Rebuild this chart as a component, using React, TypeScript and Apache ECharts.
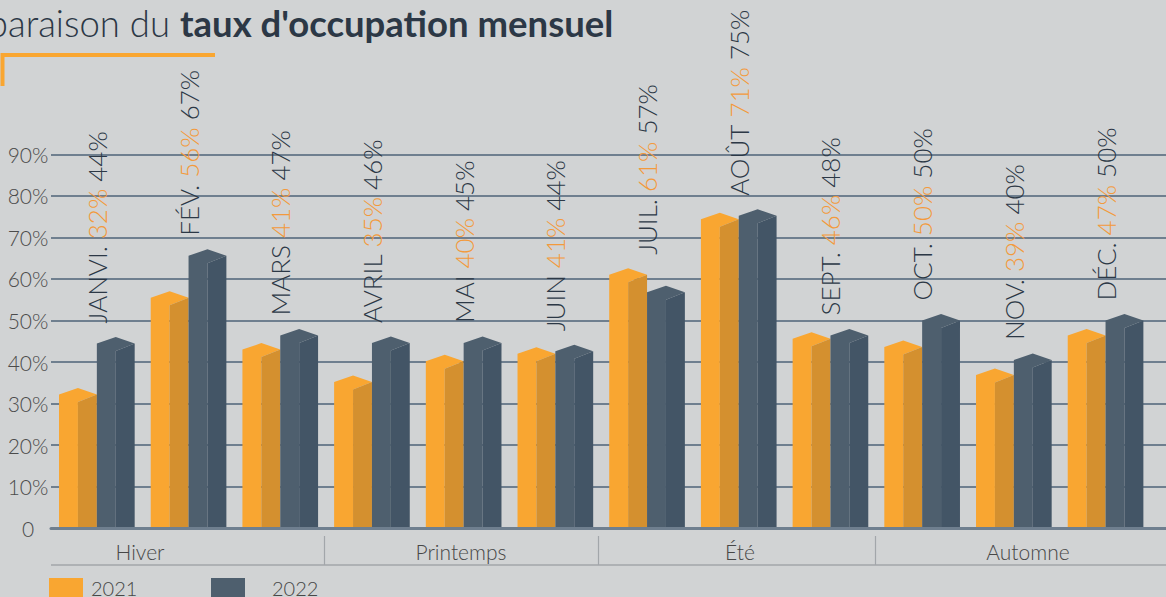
import React, { useEffect, useRef } from 'react';
import * as echarts from 'echarts';

// ---- data ----
const months = ['JANVI.', 'FÉV.', 'MARS', 'AVRIL', 'MAI', 'JUIN', 'JUIL.', 'AOÛT', 'SEPT.', 'OCT.', 'NOV.', 'DÉC.'];
const bars2021 = [32.2, 55.5, 43, 35.2, 40.2, 42, 61, 74.4, 45.6, 43.6, 36.9, 46.4];
const bars2022 = [44.5, 65.6, 46.4, 44.6, 44.6, 42.6, 56.8, 75.2, 46.4, 50, 40.5, 50];
const labels2021 = ['32%', '56%', '41%', '35%', '40%', '41%', '61%', '71%', '46%', '50%', '39%', '47%'];
const labels2022 = ['44%', '67%', '47%', '46%', '45%', '44%', '57%', '75%', '48%', '50%', '40%', '50%'];
const seasons = ['Hiver', 'Printemps', 'Été', 'Automne'];
const seriesNames = ['2021', '2022'];
const yMax = 90;
const yStep = 10;

// ---- layout / style ----
const W = 1166;
const H = 597;
const GRID_LEFT = 51;
const GRID_TOP = 154.3;
const GRID_BOTTOM = H - 528.3;
const BAND = 91.7;
const FONT = 'Lato, "Open Sans", sans-serif';
const BG = '#d1d3d4';
const ORANGE = '#f9a631';
const ORANGE_D = '#d4902f';
const SLATE = '#4e5f6e';
const SLATE_D = '#435566';
const TEXT_DARK = '#2c3846';
const TEXT_ORANGE = '#f39a3c';
const GRID_COLOR = '#6f7f8f';
const SEASON_LINE = '#a2a6aa';
const PEAK = 6.5;
const DROP = 7.5;
const seasonX = [140, 461, 740, 1028];
const seasonSep = [324.5, 598.5, 875.5];
const legendLeft = [49, 211];
const legendTextPad = [3, 22];

function makeRender(second: boolean, light: string, dark: string) {
  return (params: any, api: any) => {
    const idx = api.value(0);
    const val = api.value(1);
    const top = api.coord([idx, val]);
    const base = api.coord([idx, 0]);
    const band = api.size([1, 0])[0];
    const w = band * 0.4125;
    const h = w / 2;
    const x0 = second ? top[0] : top[0] - w;
    const yT = top[1];
    const yB = base[1];
    return {
      type: 'group',
      children: [
        {
          type: 'polygon',
          shape: { points: [[x0, yT], [x0 + h, yT - PEAK], [x0 + w, yT], [x0 + h, yT + DROP], [x0 + h, yB], [x0, yB]] },
          style: { fill: light },
        },
        {
          type: 'polygon',
          shape: { points: [[x0 + h, yT + DROP], [x0 + w, yT], [x0 + w, yB], [x0 + h, yB]] },
          style: { fill: dark },
        },
      ],
    };
  };
}

function renderLabel(params: any, api: any) {
  const idx = api.value(0);
  const val = api.value(1);
  const pt = api.coord([idx, val]);
  return {
    type: 'text',
    x: pt[0],
    y: pt[1] - 20,
    rotation: Math.PI / 2,
    style: {
      text: `{m|${months[idx]}} {a|${labels2021[idx]}} {b|${labels2022[idx]}}`,
      fontSize: 26,
      fontFamily: FONT,
      fontWeight: 300,
      fill: TEXT_DARK,
      align: 'left',
      verticalAlign: 'middle',
      rich: {
        m: { fontSize: 26, fontFamily: FONT, fontWeight: 300, fill: TEXT_DARK },
        a: { fontSize: 26, fontFamily: FONT, fontWeight: 300, fill: TEXT_ORANGE },
        b: { fontSize: 26, fontFamily: FONT, fontWeight: 300, fill: TEXT_DARK },
      },
    },
  };
}

export default function App() {
  const ref = useRef<HTMLDivElement>(null);
  useEffect(() => {
    if (!ref.current) return;
    const chart = echarts.init(ref.current, null, { renderer: 'svg' });
    const xMax = -0.5 + (W - GRID_LEFT) / BAND;
    const graphics: any[] = [
      {
        type: 'text',
        x: 170,
        y: 23,
        style: { text: 'Comparaison du', fontSize: 36.5, fontFamily: FONT, fontWeight: 300, fill: TEXT_DARK, align: 'right', verticalAlign: 'middle' },
      },
      {
        type: 'text',
        x: 180,
        y: 23,
        style: { text: "taux d'occupation mensuel", fontSize: 36.5, fontFamily: FONT, fontWeight: 700, fill: TEXT_DARK, align: 'left', verticalAlign: 'middle' },
      },
      {
        type: 'polyline',
        shape: { points: [[215, 55], [2.5, 55], [2.5, 86]] },
        style: { stroke: ORANGE, lineWidth: 4, fill: null },
      },
      {
        type: 'line',
        shape: { x1: GRID_LEFT, y1: 565, x2: W, y2: 565 },
        style: { stroke: SEASON_LINE, lineWidth: 1.5 },
      },
      ...seasonSep.map((x) => ({
        type: 'line',
        shape: { x1: x, y1: 536, x2: x, y2: 565 },
        style: { stroke: SEASON_LINE, lineWidth: 1.2 },
      })),
      ...seasons.map((s, i) => ({
        type: 'text',
        x: seasonX[i],
        y: 551,
        style: { text: s, fontSize: 21, fontFamily: FONT, fontWeight: 300, fill: '#474747', align: 'center', verticalAlign: 'middle' },
      })),
    ];
    chart.setOption({
      animation: false,
      backgroundColor: BG,
      grid: { left: GRID_LEFT, right: 0, top: GRID_TOP, bottom: GRID_BOTTOM, containLabel: false },
      legend: seriesNames.map((name, i) => ({
        data: [name],
        left: legendLeft[i],
        top: 578,
        padding: 0,
        icon: 'rect',
        itemWidth: 34,
        itemHeight: 20,
        selectedMode: false,
        textStyle: {
          fontSize: 20,
          lineHeight: 16,
          fontFamily: FONT,
          fontWeight: 300,
          color: '#474747',
          padding: [0, 0, 0, legendTextPad[i]],
        },
      })),
      xAxis: {
        type: 'value',
        min: -0.5,
        max: xMax,
        z: 5,
        axisLine: { show: true, lineStyle: { color: GRID_COLOR, width: 3 } },
        axisTick: { show: false },
        axisLabel: { show: false },
        splitLine: { show: false },
      },
      yAxis: {
        type: 'value',
        min: 0,
        max: yMax,
        interval: yStep,
        axisLine: { show: false },
        axisTick: { show: false },
        axisLabel: {
          align: 'center',
          margin: 23,
          fontSize: 21,
          fontFamily: FONT,
          fontWeight: 300,
          color: '#4b4b4b',
          formatter: (v: number) => (v === 0 ? '0' : `${v}%`),
        },
        splitLine: { show: true, lineStyle: { color: GRID_COLOR, width: 2 } },
      },
      series: [
        {
          name: seriesNames[0],
          type: 'custom',
          itemStyle: { color: ORANGE },
          encode: { x: 0, y: 1 },
          renderItem: makeRender(false, ORANGE, ORANGE_D),
          data: bars2021.map((v, i) => [i, v]),
        },
        {
          name: seriesNames[1],
          type: 'custom',
          itemStyle: { color: SLATE },
          encode: { x: 0, y: 1 },
          renderItem: makeRender(true, SLATE, SLATE_D),
          data: bars2022.map((v, i) => [i, v]),
        },
        {
          name: 'labels',
          type: 'custom',
          z: 4,
          silent: true,
          encode: { x: 0, y: 1 },
          renderItem: renderLabel,
          data: bars2021.map((v, i) => [i, Math.max(v, bars2022[i])]),
        },
      ],
      graphic: graphics,
    });
    return () => chart.dispose();
  }, []);
  return <div ref={ref} style={{ position: 'fixed', left: 0, top: 0, width: W, height: H }} />;
}
